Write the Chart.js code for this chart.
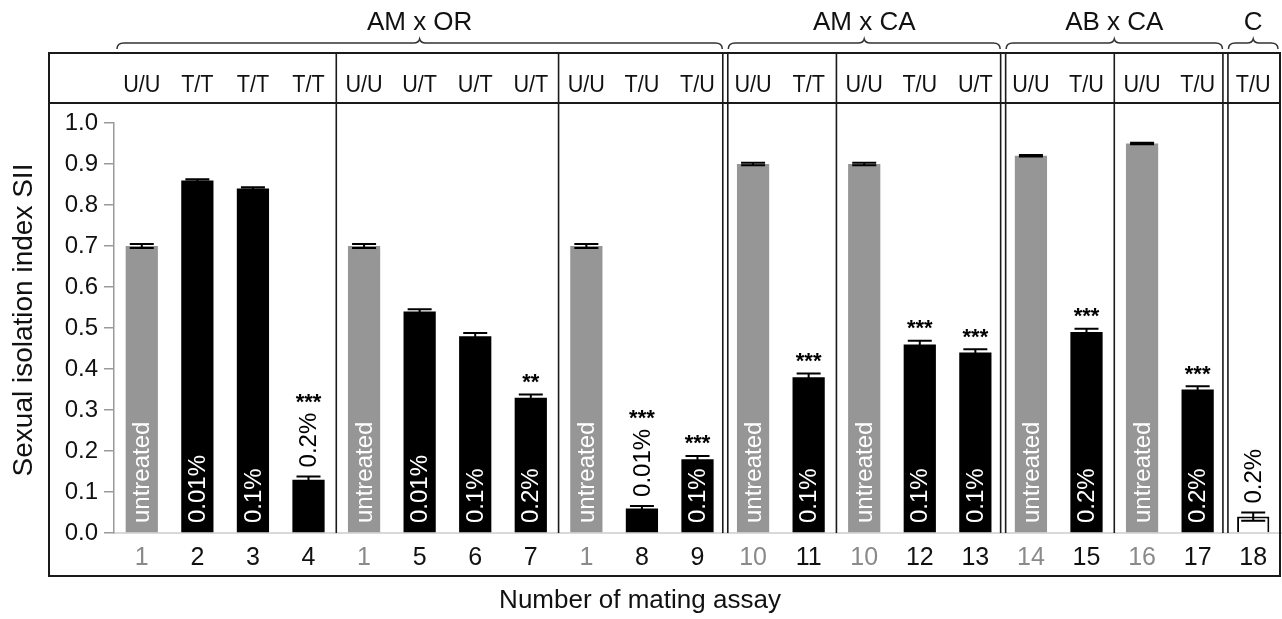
<!DOCTYPE html>
<html>
<head>
<meta charset="utf-8">
<title>Sexual isolation index</title>
<script src="https://cdn.jsdelivr.net/npm/chart.js@4.4.0/dist/chart.umd.min.js"></script>
<style>
  html, body { margin: 0; padding: 0; background: #fff; }
  #wrap { width: 1282px; height: 619px; }
</style>
</head>
<body>
<div id="wrap"><canvas id="chart" width="1282" height="619"></canvas></div>
<script>
'use strict';

// number of mating assay, one entry per bar
var assayLabels = ['1', '2', '3', '4', '1', '5', '6', '7', '1', '8', '9',
	'10', '11', '10', '12', '13', '14', '15', '16', '17', '18'];

// treatment of the two partners (header row)
var treatmentPairs = ['U/U', 'T/T', 'T/T', 'T/T', 'U/U', 'U/T', 'U/T', 'U/T', 'U/U', 'T/U', 'T/U',
	'U/U', 'T/T', 'U/U', 'T/U', 'U/T', 'U/U', 'T/U', 'U/U', 'T/U', 'T/U'];

// sexual isolation index and its error
var siiValues = [0.70, 0.86, 0.84, 0.13, 0.70, 0.54, 0.48, 0.33, 0.70, 0.06, 0.18,
	0.90, 0.38, 0.90, 0.46, 0.44, 0.92, 0.49, 0.95, 0.35, 0.04];
var siiErrors = [0.005, 0.003, 0.003, 0.008, 0.005, 0.006, 0.008, 0.008, 0.005, 0.006, 0.008,
	0.003, 0.009, 0.003, 0.009, 0.008, 0.002, 0.008, 0.002, 0.008, 0.01];

var doseLabels = ['untreated', '0.01%', '0.1%', '0.2%', 'untreated', '0.01%', '0.1%', '0.2%',
	'untreated', '0.01%', '0.1%', 'untreated', '0.1%', 'untreated', '0.1%', '0.1%',
	'untreated', '0.2%', 'untreated', '0.2%', '0.2%'];

var significance = ['', '', '', '***', '', '', '', '**', '', '***', '***',
	'', '***', '', '***', '***', '', '***', '', '***', ''];

var barKinds = ['untreated', 'treated', 'treated', 'treated', 'untreated', 'treated', 'treated', 'treated',
	'untreated', 'treated', 'treated', 'untreated', 'treated', 'untreated', 'treated', 'treated',
	'untreated', 'treated', 'untreated', 'treated', 'control'];

// crosses drawn with a brace on top
var crossNames = ['AM x OR', 'AM x CA', 'AB x CA', 'C'];
var crossFirst = [0, 11, 16, 20];
var crossLast = [10, 15, 19, 20];

// boxes inside the plot: single line after these bars, double line after the others
var singleSplits = [3, 7, 12, 17];
var doubleSplits = [10, 15, 19];

var kindFill = { untreated: '#969696', treated: '#000000', control: '#ffffff' };
var kindTick = { untreated: '#8a8a8a', treated: '#111111', control: '#111111' };

var FONT = "'Liberation Sans', Arial, Helvetica, sans-serif";
Chart.defaults.font.family = FONT;

function midBetween(scale, i) {
	return (scale.getPixelForValue(i) + scale.getPixelForValue(i + 1)) / 2;
}

function drawBrace(ctx, x1, x2, yLine) {
	var mid = (x1 + x2) / 2;
	ctx.beginPath();
	ctx.moveTo(x1, yLine + 6);
	ctx.quadraticCurveTo(x1, yLine, x1 + 7, yLine);
	ctx.lineTo(mid - 6, yLine);
	ctx.quadraticCurveTo(mid - 1, yLine, mid, yLine - 4);
	ctx.quadraticCurveTo(mid + 1, yLine, mid + 6, yLine);
	ctx.lineTo(x2 - 7, yLine);
	ctx.quadraticCurveTo(x2, yLine, x2, yLine + 6);
	ctx.stroke();
}

// text a bit narrower than the font, like the figure
function narrowText(ctx, text, cx, cy, squeeze) {
	ctx.save();
	ctx.translate(cx, cy);
	ctx.scale(squeeze, 1);
	ctx.fillText(text, 0, 0);
	ctx.restore();
}

var figureDecor = {
	id: 'figureDecor',
	afterDraw: function (chart) {
		var ctx = chart.ctx;
		var area = chart.chartArea;
		var x = chart.scales.x;
		var y = chart.scales.y;
		var boxLeft = 49, boxTop = 53, boxRight = 1280, boxBottom = 576, headerLine = 103;
		var half = (x.getPixelForValue(1) - x.getPixelForValue(0)) / 2;

		ctx.save();

		// error bars
		ctx.strokeStyle = '#000';
		ctx.lineWidth = 2;
		siiValues.forEach(function (v, i) {
			var cx = x.getPixelForValue(i);
			var top = y.getPixelForValue(v + siiErrors[i]);
			var bot = y.getPixelForValue(v - siiErrors[i]);
			ctx.beginPath();
			ctx.moveTo(cx, top);
			ctx.lineTo(cx, bot);
			ctx.moveTo(cx - 12, top);
			ctx.lineTo(cx + 12, top);
			ctx.moveTo(cx - 12, bot);
			ctx.lineTo(cx + 12, bot);
			ctx.stroke();
		});

		// dose labels and stars
		siiValues.forEach(function (v, i) {
			var cx = x.getPixelForValue(i);
			var capTop = y.getPixelForValue(v + siiErrors[i]);
			var barHeight = y.getPixelForValue(0) - y.getPixelForValue(v);
			ctx.font = '24px ' + FONT;
			var len = ctx.measureText(doseLabels[i]).width;
			var outside = len + 12 > barHeight;
			var start = outside ? capTop - 9 : area.bottom - 10;
			ctx.save();
			ctx.translate(cx, start);
			ctx.rotate(-Math.PI / 2);
			ctx.textAlign = 'left';
			ctx.textBaseline = 'middle';
			ctx.fillStyle = outside ? '#000' : '#fff';
			ctx.fillText(doseLabels[i], 0, 1);
			ctx.restore();

			if (significance[i]) {
				var starMid = outside ? capTop - 9 - len - 16 : capTop - 18;
				ctx.font = 'bold 22px ' + FONT;
				ctx.textAlign = 'center';
				ctx.textBaseline = 'alphabetic';
				ctx.fillStyle = '#000';
				ctx.fillText(significance[i], cx, starMid + 12.5);
			}
		});

		// outer frame and header row
		ctx.strokeStyle = '#1a1a1a';
		ctx.lineWidth = 2;
		ctx.strokeRect(boxLeft, boxTop, boxRight - boxLeft, boxBottom - boxTop);
		ctx.beginPath();
		ctx.moveTo(boxLeft, headerLine);
		ctx.lineTo(boxRight, headerLine);
		ctx.stroke();

		// separators between assay boxes
		ctx.lineWidth = 1.6;
		ctx.beginPath();
		singleSplits.forEach(function (i) {
			var sx = midBetween(x, i);
			ctx.moveTo(sx, boxTop);
			ctx.lineTo(sx, area.bottom);
		});
		doubleSplits.forEach(function (i) {
			var sx = midBetween(x, i);
			ctx.moveTo(sx - 2.5, boxTop);
			ctx.lineTo(sx - 2.5, area.bottom);
			ctx.moveTo(sx + 2.5, boxTop);
			ctx.lineTo(sx + 2.5, area.bottom);
		});
		ctx.stroke();

		// treatment pairs
		ctx.font = '24px ' + FONT;
		ctx.textAlign = 'center';
		ctx.textBaseline = 'middle';
		ctx.fillStyle = '#111';
		treatmentPairs.forEach(function (t, i) {
			narrowText(ctx, t, x.getPixelForValue(i), 85, 0.9);
		});

		// crosses with braces
		ctx.strokeStyle = '#333';
		ctx.lineWidth = 1.5;
		ctx.font = '26px ' + FONT;
		crossNames.forEach(function (name, k) {
			var x1 = x.getPixelForValue(crossFirst[k]) - half + 3;
			var x2 = x.getPixelForValue(crossLast[k]) + half - 3;
			if (k === crossNames.length - 1) { x2 = boxRight - 2; }
			drawBrace(ctx, x1, x2, 43);
			ctx.fillText(name, (x1 + x2) / 2, 23);
		});

		// axis titles
		ctx.font = '26px ' + FONT;
		ctx.fillText('Number of mating assay', 640, 601);
		ctx.save();
		ctx.translate(24, 320);
		ctx.rotate(-Math.PI / 2);
		ctx.font = '28px ' + FONT;
		ctx.fillText('Sexual isolation index SII', 0, 0);
		ctx.restore();

		ctx.restore();
	}
};

new Chart(document.getElementById('chart'), {
	type: 'bar',
	data: {
		labels: assayLabels,
		datasets: [{
			data: siiValues,
			backgroundColor: barKinds.map(function (k) { return kindFill[k]; }),
			borderColor: barKinds.map(function (k) { return k === 'control' ? '#000' : 'rgba(0,0,0,0)'; }),
			borderWidth: barKinds.map(function (k) { return k === 'control' ? 2 : 0; }),
			barPercentage: 0.58,
			categoryPercentage: 1
		}]
	},
	options: {
		responsive: false,
		animation: false,
		layout: { padding: { top: 123, right: 1, left: 0, bottom: 0 } },
		plugins: {
			legend: { display: false },
			tooltip: { enabled: false }
		},
		scales: {
			x: {
				afterFit: function (scale) { scale.height = 86; },
				grid: { display: false, drawTicks: false, tickLength: 0 },
				border: { display: true, color: '#d9d9d9', width: 2 },
				ticks: {
					padding: 10,
					font: { size: 25 },
					color: barKinds.map(function (k) { return kindTick[k]; })
				}
			},
			y: {
				min: 0,
				max: 1,
				afterFit: function (scale) { scale.width = 114; },
				grid: { display: true, drawOnChartArea: false, drawTicks: true, tickLength: 10, color: '#9a9a9a', lineWidth: 1.5 },
				border: { display: true, color: '#9a9a9a', width: 1.5 },
				ticks: {
					stepSize: 0.1,
					padding: 6,
					font: { size: 24 },
					color: '#111',
					callback: function (v) { return Number(v).toFixed(1); }
				}
			}
		}
	},
	plugins: [figureDecor]
});
</script>
</body>
</html>
